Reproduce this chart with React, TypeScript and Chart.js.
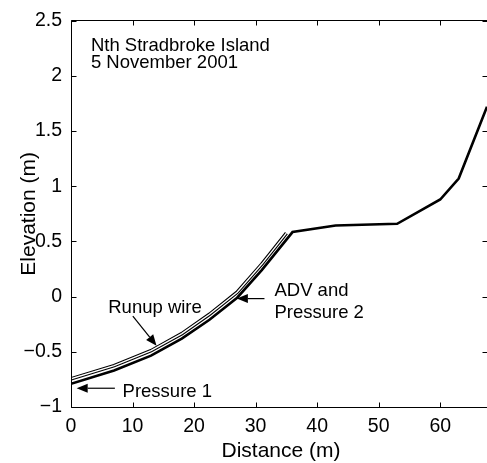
import React, { useEffect, useRef } from "react";
import { Chart, registerables } from "chart.js";

Chart.register(...registerables);

// Beach profile (thick line)
const profileX = [0, 7, 13, 18, 22.5, 27, 31, 36, 43, 53, 60, 63, 67.6];
const profileY = [-0.79, -0.67, -0.535, -0.38, -0.21, -0.01, 0.24, 0.585, 0.645, 0.66, 0.88, 1.07, 1.72];

// Runup wire (double line)
const wireX = [0, 7, 13, 18, 22.5, 27, 31, 35];
const wireY = [-0.745, -0.625, -0.49, -0.335, -0.16, 0.04, 0.295, 0.575];

const xTicks = [0, 10, 20, 30, 40, 50, 60];
const yTicks = [-1, -0.5, 0, 0.5, 1, 1.5, 2, 2.5];
const xMin = 0;
const xMax = 67.6;
const yMin = -1;
const yMax = 2.5;

const xTitle = "Distance (m)";
const yTitle = "Elevation (m)";

// Text labels in data coordinates (left, baseline)
const labelTexts = ["Nth Stradbroke Island", "5 November 2001", "Runup wire", "Pressure 1", "ADV and", "Pressure 2"];
const labelX = [3.24, 3.24, 6.05, 8.38, 33.06, 33.06];
const labelY = [2.225, 2.068, -0.152, -0.908, 0.003, -0.19];

// Arrows in data coordinates: tail -> tip
const arrowFromX = [10.05, 7.13, 31.44];
const arrowFromY = [-0.176, -0.83, -0.018];
const arrowToX = [13.9, 0.92, 26.95];
const arrowToY = [-0.445, -0.83, -0.018];

const FONT = '"Liberation Sans", Arial, Helvetica, sans-serif';

const toPts = (xs: number[], ys: number[]) => xs.map((x, i) => ({ x, y: ys[i] }));

const fmt = (v: number) => String(v).replace("-", "\u2212");

const overlay = {
  id: "overlay",
  afterDraw(chart: any) {
    const ctx: CanvasRenderingContext2D = chart.ctx;
    const { left, right, top, bottom } = chart.chartArea;
    const xs = chart.scales.x;
    const ys = chart.scales.y;
    ctx.save();
    ctx.strokeStyle = "#000";
    ctx.fillStyle = "#000";
    ctx.lineWidth = 1;
    const L = Math.floor(left) + 0.5;
    const R = Math.floor(right) + 0.5;
    const T = Math.floor(top) + 0.5;
    const B = Math.floor(bottom) + 0.5;
    ctx.beginPath();
    ctx.moveTo(L, T);
    ctx.lineTo(R, T);
    ctx.lineTo(R, B);
    ctx.lineTo(L, B);
    ctx.closePath();
    ctx.stroke();
    const tl = 5;
    ctx.beginPath();
    xTicks.forEach((v) => {
      const px = Math.round(xs.getPixelForValue(v)) + 0.5;
      ctx.moveTo(px, B);
      ctx.lineTo(px, B - tl);
      ctx.moveTo(px, T);
      ctx.lineTo(px, T + tl);
    });
    yTicks.forEach((v) => {
      const py = Math.round(ys.getPixelForValue(v)) + 0.5;
      ctx.moveTo(L, py);
      ctx.lineTo(L + tl, py);
      ctx.moveTo(R, py);
      ctx.lineTo(R - tl, py);
    });
    ctx.stroke();

    // labels
    ctx.font = `18.5px ${FONT}`;
    ctx.textAlign = "left";
    ctx.textBaseline = "alphabetic";
    labelTexts.forEach((t, i) => {
      ctx.fillText(t, xs.getPixelForValue(labelX[i]), ys.getPixelForValue(labelY[i]));
    });

    // arrows
    arrowFromX.forEach((_, i) => {
      const x0 = xs.getPixelForValue(arrowFromX[i]);
      const y0 = ys.getPixelForValue(arrowFromY[i]);
      const x1 = xs.getPixelForValue(arrowToX[i]);
      const y1 = ys.getPixelForValue(arrowToY[i]);
      const ang = Math.atan2(y1 - y0, x1 - x0);
      const hl = 11;
      const hw = 4.5;
      const bx = x1 - hl * Math.cos(ang);
      const by = y1 - hl * Math.sin(ang);
      ctx.beginPath();
      ctx.moveTo(x0, y0);
      ctx.lineTo(bx, by);
      ctx.lineWidth = 1.2;
      ctx.stroke();
      ctx.beginPath();
      ctx.moveTo(x1, y1);
      ctx.lineTo(bx - hw * Math.sin(ang), by + hw * Math.cos(ang));
      ctx.lineTo(bx + hw * Math.sin(ang), by - hw * Math.cos(ang));
      ctx.closePath();
      ctx.fill();
    });

    // axis titles
    ctx.font = `21px ${FONT}`;
    ctx.textAlign = "center";
    ctx.textBaseline = "alphabetic";
    ctx.fillText(xTitle, (left + Math.min(right, chart.width)) / 2 + 2, 457);
    ctx.save();
    ctx.translate(35, (top + bottom) / 2);
    ctx.rotate(-Math.PI / 2);
    ctx.fillText(yTitle, 0, 0);
    ctx.restore();
    ctx.restore();
  },
};

export default function App() {
  const ref = useRef<HTMLCanvasElement | null>(null);
  useEffect(() => {
    document.body.style.margin = "0";
    const canvas = ref.current;
    if (!canvas) return;
    const tickFont = { family: FONT, size: 19.5 };
    const chart = new Chart(canvas, {
      type: "scatter",
      data: {
        datasets: [
          {
            data: toPts(wireX, wireY),
            showLine: true,
            borderColor: "#ffffff",
            borderWidth: 1.4,
            pointRadius: 0,
            tension: 0,
            order: 0,
          },
          {
            data: toPts(wireX, wireY),
            showLine: true,
            borderColor: "#000000",
            borderWidth: 3.6,
            pointRadius: 0,
            tension: 0,
            order: 1,
          },
          {
            data: toPts(profileX, profileY),
            showLine: true,
            borderColor: "#000000",
            borderWidth: 2.6,
            pointRadius: 0,
            tension: 0,
            order: 2,
          },
        ],
      } as any,
      options: {
        animation: false,
        responsive: false,
        devicePixelRatio: 1,
        layout: { padding: { top: 16, left: 0, right: -1, bottom: 0 } },
        plugins: { legend: { display: false }, tooltip: { enabled: false } },
        scales: {
          x: {
            type: "linear",
            min: xMin,
            max: xMax,
            afterBuildTicks: (s: any) => {
              s.ticks = xTicks.map((v) => ({ value: v }));
            },
            afterFit: (s: any) => {
              s.height = 56;
            },
            ticks: { font: tickFont, color: "#000", padding: 8, maxRotation: 0, autoSkip: false, callback: (v: any) => fmt(v) },
            grid: { display: false, drawTicks: false },
            border: { display: false },
          },
          y: {
            type: "linear",
            min: yMin,
            max: yMax,
            afterBuildTicks: (s: any) => {
              s.ticks = yTicks.map((v) => ({ value: v }));
            },
            afterFit: (s: any) => {
              s.width = 71;
            },
            ticks: { font: tickFont, color: "#000", padding: 9, autoSkip: false, callback: (v: any) => fmt(v) },
            grid: { display: false, drawTicks: false },
            border: { display: false },
          },
        },
      } as any,
      plugins: [overlay],
    });
    return () => chart.destroy();
  }, []);
  return (
    <div style={{ width: 487, height: 463, background: "#fff" }}>
      <canvas ref={ref} width={487} height={463} style={{ display: "block" }} />
    </div>
  );
}
